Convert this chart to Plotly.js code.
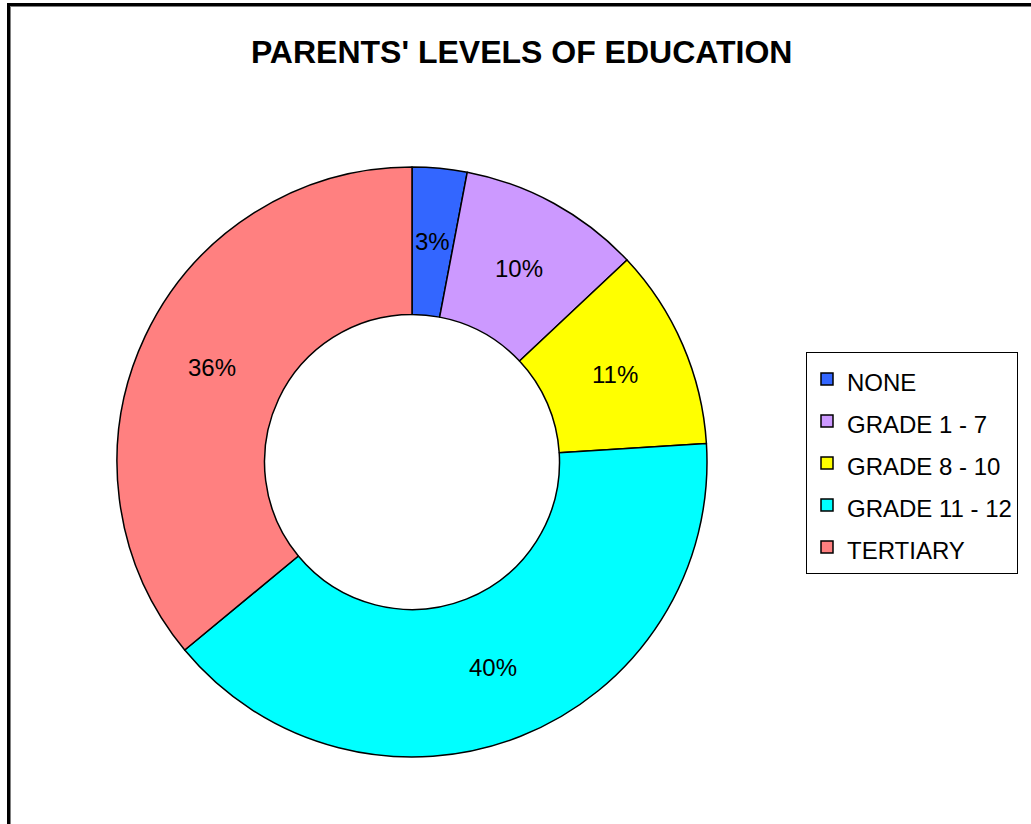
<!DOCTYPE html>
<html>
<head>
<meta charset="utf-8">
<script src="https://cdn.plot.ly/plotly-3.0.1.min.js"></script>
<style>
  html, body { margin: 0; padding: 0; width: 1031px; height: 824px; overflow: hidden; background: #fff; }
  #frame { position: absolute; left: 7px; top: 3px; width: 1200px; height: 1000px;
           border: 3px solid #000; box-shadow: inset 1px 1px 0 #808080; box-sizing: border-box; }
  #chart { position: absolute; left: 0; top: 0; width: 1031px; height: 824px; }
</style>
</head>
<body>
<div id="frame"></div>
<div id="chart"></div>
<script>
const categories = ["NONE", "GRADE 1 - 7", "GRADE 8 - 10", "GRADE 11 - 12", "TERTIARY"];
const shares = [3, 10, 11, 40, 36];
const sliceColors = ["#3366FF", "#CC99FF", "#FFFF00", "#00FFFF", "#FF8080"];
const chartTitle = "PARENTS' LEVELS OF EDUCATION";

const FONT = "Liberation Sans, Arial, sans-serif";
const HOLE = 0.5;
const legendNames = categories.map(c => '<span style="font-size:24px">' + c + '</span>');

// percentage labels placed at the middle of the ring, derived from the data
const total = shares.reduce((a, b) => a + b, 0);
const labelAnnotations = [];
let cum = 0;
shares.forEach((v) => {
  const theta = 2 * Math.PI * (cum + v / 2) / total;
  cum += v;
  const r = 0.5 * (1 + HOLE) / 2;
  labelAnnotations.push({
    xref: "paper", yref: "paper",
    x: 0.5 + r * Math.sin(theta), y: 0.5 + r * Math.cos(theta),
    xanchor: "center", yanchor: "middle",
    text: Math.round(v / total * 100) + "%",
    showarrow: false,
    font: { family: FONT, size: 24, color: "#000" }
  });
});

const trace = {
  type: "pie",
  labels: legendNames,
  values: shares,
  sort: false,
  direction: "clockwise",
  rotation: 0,
  hole: HOLE,
  marker: { colors: sliceColors, line: { color: "#000", width: 1.5 } },
  textinfo: "none",
  hoverinfo: "none",
  domain: { x: [0, 1], y: [0, 1] }
};

const layout = {
  width: 1031, height: 824,
  margin: { l: 117, r: 324, t: 167, b: 67, pad: 0 },
  paper_bgcolor: "rgba(0,0,0,0)",
  plot_bgcolor: "rgba(0,0,0,0)",
  font: { family: FONT, color: "#000" },
  title: {
    text: "<b>" + chartTitle + "</b>",
    font: { family: FONT, size: 32, color: "#000" },
    x: 0.506, xref: "container", xanchor: "center",
    y: 0.937, yref: "container", yanchor: "middle"
  },
  showlegend: true,
  legend: {
    x: 1.1678, xanchor: "left", y: 0.6864, yanchor: "top",
    bordercolor: "#000", borderwidth: 1, bgcolor: "#fff",
    font: { family: FONT, size: 30, color: "#000" },
    traceorder: "normal"
  },
  annotations: labelAnnotations,
  hovermode: false
};

Plotly.newPlot("chart", [trace], layout, { displayModeBar: false, staticPlot: true });
</script>
</body>
</html>
